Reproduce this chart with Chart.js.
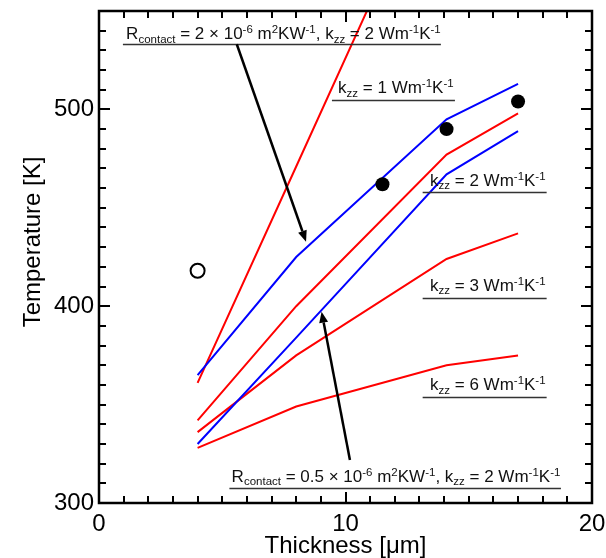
<!DOCTYPE html>
<html><head><meta charset="utf-8">
<script src="https://cdn.jsdelivr.net/npm/chart.js@4/dist/chart.umd.min.js"></script>
<style>html,body{margin:0;padding:0;background:#fff}canvas{display:block}</style>
</head><body>
<canvas id="c" width="606" height="558"></canvas>
<script>
// ---- data ----
const thickness = [4, 8, 14.1, 17];
const blueUpper = [365, 425, 495, 513];
const blueLower = [330, 384, 467, 489];
const redSteep  = [361, 471, 639, null];
const redK2     = [342, 400, 477, 498];
const redK3     = [336, 375, 424, 437];
const redK6     = [328, 349, 370, 375];
const measuredX = [11.5, 14.1, 17];
const measuredY = [462, 490, 504];
const openX = [4];
const openY = [418];
const xTicks = [0, 10, 20];
const yTicks = [300, 400, 500];
const xTitle = 'Thickness [\u03bcm]';
const yTitle = 'Temperature [K]';

const FONT = '"Liberation Sans", Arial, Helvetica, sans-serif';

function pts(xs, ys) {
  return xs.map((x, i) => ({x: x, y: ys[i]})).filter(p => p.y !== null);
}

// annotations (text runs; positions in data coordinates)
const notes = [
  {runs: [['R'],['contact','sub'],[' = 2 \u00d7 10'],['-6','sup'],[' m'],['2','sup'],['KW'],['-1','sup'],[', k'],['zz','sub'],[' = 2 Wm'],['-1','sup'],['K'],['-1','sup']],
   x: 1.1, y: 535.6, ux1: 0.97, ux2: 13.87, uy: 533.0},
  {runs: [['k'],['zz','sub'],[' = 1 Wm'],['-1','sup'],['K'],['-1','sup']],
   x: 9.7, y: 508.2, ux1: 9.45, ux2: 14.44, uy: 505.0},
  {runs: [['k'],['zz','sub'],[' = 2 Wm'],['-1','sup'],['K'],['-1','sup']],
   x: 13.43, y: 461.1, ux1: 13.13, ux2: 18.16, uy: 457.9},
  {runs: [['k'],['zz','sub'],[' = 3 Wm'],['-1','sup'],['K'],['-1','sup']],
   x: 13.43, y: 407.9, ux1: 13.13, ux2: 18.16, uy: 404.3},
  {runs: [['k'],['zz','sub'],[' = 6 Wm'],['-1','sup'],['K'],['-1','sup']],
   x: 13.43, y: 357.4, ux1: 13.13, ux2: 18.16, uy: 354.0},
  {runs: [['R'],['contact','sub'],[' = 0.5 \u00d7 10'],['-6','sup'],[' m'],['2','sup'],['KW'],['-1','sup'],[', k'],['zz','sub'],[' = 2 Wm'],['-1','sup'],['K'],['-1','sup']],
   x: 5.38, y: 310.8, ux1: 5.29, ux2: 18.74, uy: 307.4}
];
const arrows = [
  {x1: 5.59, y1: 533.1, x2: 8.40, y2: 432.8},
  {x1: 10.18, y1: 321.8, x2: 9.03, y2: 397.2}
];

const framePlugin = {
  id: 'frame',
  afterDatasetsDraw(chart) {
    const ctx = chart.ctx, a = chart.chartArea;
    const xs = chart.scales.x, ys = chart.scales.y;
    ctx.save();
    ctx.strokeStyle = '#000';
    ctx.lineWidth = 2;
    ctx.beginPath();
    for (let v = xs.min + 1; v < xs.max; v += 1) {
      const px = Math.round(xs.getPixelForValue(v));
      const len = (v % 10 === 0) ? 11 : 7;
      ctx.moveTo(px, a.bottom); ctx.lineTo(px, a.bottom - len);
      ctx.moveTo(px, a.top); ctx.lineTo(px, a.top + len);
    }
    for (let v = ys.min + 10; v < ys.max; v += 10) {
      const py = Math.round(ys.getPixelForValue(v));
      const len = (v % 100 === 0) ? 11 : 7;
      ctx.moveTo(a.left, py); ctx.lineTo(a.left + len, py);
      ctx.moveTo(a.right, py); ctx.lineTo(a.right - len, py);
    }
    ctx.stroke();
    ctx.lineWidth = 2.5;
    ctx.strokeRect(a.left, a.top, a.right - a.left, a.bottom - a.top);
    ctx.restore();
  },
  afterDraw(chart) {
    const ctx = chart.ctx, a = chart.chartArea;
    const xs = chart.scales.x, ys = chart.scales.y;
    ctx.save();
    for (const n of notes) {
      let cx = xs.getPixelForValue(n.x);
      const by = ys.getPixelForValue(n.y);
      ctx.fillStyle = '#111';
      ctx.textBaseline = 'alphabetic';
      ctx.textAlign = 'left';
      for (const [t, kind] of n.runs) {
        const size = kind ? 11.5 : 17;
        ctx.font = size + 'px ' + FONT;
        const dy = kind === 'sub' ? 3.5 : (kind === 'sup' ? -6 : 0);
        ctx.fillText(t, cx, by + dy);
        cx += ctx.measureText(t).width;
      }
      const uy = Math.round(ys.getPixelForValue(n.uy)) + 0.5;
      ctx.strokeStyle = '#333';
      ctx.lineWidth = 1.5;
      ctx.beginPath();
      ctx.moveTo(xs.getPixelForValue(n.ux1), uy);
      ctx.lineTo(xs.getPixelForValue(n.ux2), uy);
      ctx.stroke();
    }
    for (const ar of arrows) {
      const x1 = xs.getPixelForValue(ar.x1), y1 = ys.getPixelForValue(ar.y1);
      const x2 = xs.getPixelForValue(ar.x2), y2 = ys.getPixelForValue(ar.y2);
      const ang = Math.atan2(y2 - y1, x2 - x1);
      const L = 11, W = 4.5;
      const bx = x2 - L * Math.cos(ang), by = y2 - L * Math.sin(ang);
      ctx.strokeStyle = '#000'; ctx.fillStyle = '#000';
      ctx.lineWidth = 2.5;
      ctx.beginPath(); ctx.moveTo(x1, y1); ctx.lineTo(bx, by); ctx.stroke();
      ctx.beginPath();
      ctx.moveTo(x2, y2);
      ctx.lineTo(bx + W * Math.sin(ang), by - W * Math.cos(ang));
      ctx.lineTo(bx - W * Math.sin(ang), by + W * Math.cos(ang));
      ctx.closePath(); ctx.fill();
    }
    ctx.fillStyle = '#000';
    ctx.font = '24px ' + FONT;
    ctx.textAlign = 'center';
    ctx.textBaseline = 'alphabetic';
    ctx.fillText(xTitle, (a.left + a.right) / 2, 553);
    ctx.translate(39.5, 242);
    ctx.rotate(-Math.PI / 2);
    ctx.fillText(yTitle, 0, 0);
    ctx.restore();
  }
};

const lineDs = (arr, color) => ({
  data: pts(thickness, arr), showLine: true, borderColor: color, borderWidth: 2,
  pointRadius: 0, fill: false, tension: 0
});

new Chart(document.getElementById('c'), {
  type: 'scatter',
  data: {
    datasets: [
      {data: pts(measuredX, measuredY), pointRadius: 7, backgroundColor: '#000', borderColor: '#000', borderWidth: 0, showLine: false},
      {data: pts(openX, openY), pointRadius: 7, backgroundColor: '#fff', borderColor: '#000', borderWidth: 2, showLine: false},
      lineDs(blueUpper, '#0000ff'),
      lineDs(blueLower, '#0000ff'),
      lineDs(redSteep, '#ff0000'),
      lineDs(redK2, '#ff0000'),
      lineDs(redK3, '#ff0000'),
      lineDs(redK6, '#ff0000')
    ]
  },
  options: {
    responsive: false, animation: false, devicePixelRatio: 1,
    layout: {padding: {left: 0, right: 14, top: 11, bottom: 0}},
    plugins: {legend: {display: false}, tooltip: {enabled: false}},
    scales: {
      x: {
        type: 'linear', min: 0, max: 20,
        grid: {display: false, drawTicks: false}, border: {display: false},
        ticks: {font: {size: 24, family: FONT}, color: '#000', padding: 7, maxRotation: 0, autoSkip: false},
        afterBuildTicks: s => { s.ticks = xTicks.map(v => ({value: v})); },
        afterFit: s => { s.height = 55; s.paddingLeft = 0; s.paddingRight = 0; }
      },
      y: {
        type: 'linear', min: 300, max: 550,
        grid: {display: false, drawTicks: false}, border: {display: false},
        ticks: {font: {size: 24, family: FONT}, color: '#000', padding: 5, autoSkip: false},
        afterBuildTicks: s => { s.ticks = yTicks.map(v => ({value: v})); },
        afterFit: s => { s.width = 99; s.paddingTop = 0; s.paddingBottom = 0; }
      }
    }
  },
  plugins: [framePlugin]
});
</script>
</body></html>
